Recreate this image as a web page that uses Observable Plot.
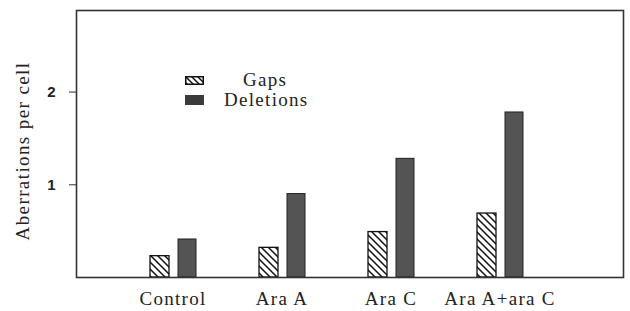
<!DOCTYPE html>
<html>
<head>
<meta charset="utf-8">
<script src="https://cdn.jsdelivr.net/npm/d3@7"></script>
<script src="https://cdn.jsdelivr.net/npm/@observablehq/plot@0.6"></script>
<style>
  html, body { margin: 0; padding: 0; background: #fff; }
  #wrap { position: relative; width: 630px; height: 311px; }
  #legend { position: absolute; left: 185px; top: 70px; font-family: "Liberation Serif", serif; font-size: 19px; letter-spacing: 1.3px; color: #222; }
  .row { display: flex; align-items: center; height: 20px; }
</style>
</head>
<body>
<div id="wrap"></div>
<script>
const groups = ["Control", "Ara A", "Ara C", "Ara A+ara C"];
const gaps = [0.23, 0.32, 0.49, 0.69];
const deletions = [0.41, 0.90, 1.28, 1.78];
const yTicks = [1, 2];
const seriesNames = ["Gaps", "Deletions"];
const yLabel = "Aberrations per cell";

const gapData = groups.map((g, i) => ({group: g, value: gaps[i]}));
const delData = groups.map((g, i) => ({group: g, value: deletions[i]}));

const chart = Plot.plot({
  width: 630,
  height: 311,
  marginLeft: 76,
  marginRight: 7,
  marginTop: 10,
  marginBottom: 34,
  style: {background: "#fff", color: "#222"},
  x: {type: "band", domain: groups, range: [116, 555], padding: 0},
  y: {domain: [0, 2.88]},
  marks: [
    Plot.barY(gapData, {x: "group", y: "value", fill: "url(#hatch)", stroke: "#111", strokeWidth: 1.3, insetLeft: 32, insetRight: 58}),
    Plot.barY(delData, {x: "group", y: "value", fill: "#545454", stroke: "#222", strokeWidth: 1, insetLeft: 60, insetRight: 31}),
    Plot.frame({stroke: "#333", strokeWidth: 1.6}),
    Plot.axisY(yTicks, {tickSize: 7, tickPadding: 14, fontSize: 15, tickFormat: d3.format("d"), fontFamily: "Liberation Sans, sans-serif", label: null, stroke: "#333"}),
    Plot.axisX({tickSize: 0, tickPadding: 14, fontSize: 19, fontFamily: "Liberation Serif, serif", label: null})
  ]
});

// hatch pattern for the Gaps series
const defs = d3.select(chart).insert("defs", ":first-child");
const pat = defs.append("pattern").attr("id", "hatch").attr("patternUnits", "userSpaceOnUse")
  .attr("width", 7).attr("height", 7);
pat.append("rect").attr("width", 7).attr("height", 7).attr("fill", "#fff");
pat.append("path").attr("d", "M0,0L7,7M-1,6L1,8M6,-1L8,1").attr("stroke", "#111").attr("stroke-width", 1.5);

// text styling tweaks
d3.select(chart).selectAll("[aria-label='x-axis tick label'] text").style("letter-spacing", "1.3px");
d3.select(chart).selectAll("[aria-label='y-axis tick label']").attr("font-weight", "bold");
d3.select(chart).selectAll("[aria-label='y-axis tick label'] text").style("font-weight", "bold");

// y label (rotated)
d3.select(chart).append("text")
  .attr("transform", "translate(29,151) rotate(-90)")
  .attr("text-anchor", "middle")
  .attr("font-family", "Liberation Serif, serif")
  .attr("font-size", 19)
  .attr("letter-spacing", "1.4px")
  .attr("fill", "#222")
  .text(yLabel);

const wrap = document.getElementById("wrap");
wrap.appendChild(chart);

// legend
const legend = document.createElement("div");
legend.id = "legend";
const swatchSvg = (hatched) => hatched
  ? `<svg width="19" height="9" style="margin-right:20px"><defs><pattern id="lh" patternUnits="userSpaceOnUse" width="6" height="6"><path d="M0,0L6,6M-1,5L1,7M5,-1L7,1" stroke="#111" stroke-width="1.5"/></pattern></defs><rect x="0.75" y="0.75" width="17.5" height="7.5" fill="url(#lh)" stroke="#111" stroke-width="1.5"/></svg>`
  : `<svg width="19" height="10" style="margin-right:20px"><rect x="0" y="0" width="19" height="10" fill="#3a3a3a"/></svg>`;
seriesNames.forEach((name, i) => {
  const row = document.createElement("div");
  row.className = "row";
  row.innerHTML = swatchSvg(i === 0) + `<span style="${i === 0 ? 'margin-left:19px' : ''}">${name}</span>`;
  legend.appendChild(row);
});
wrap.appendChild(legend);
</script>
</body>
</html>
